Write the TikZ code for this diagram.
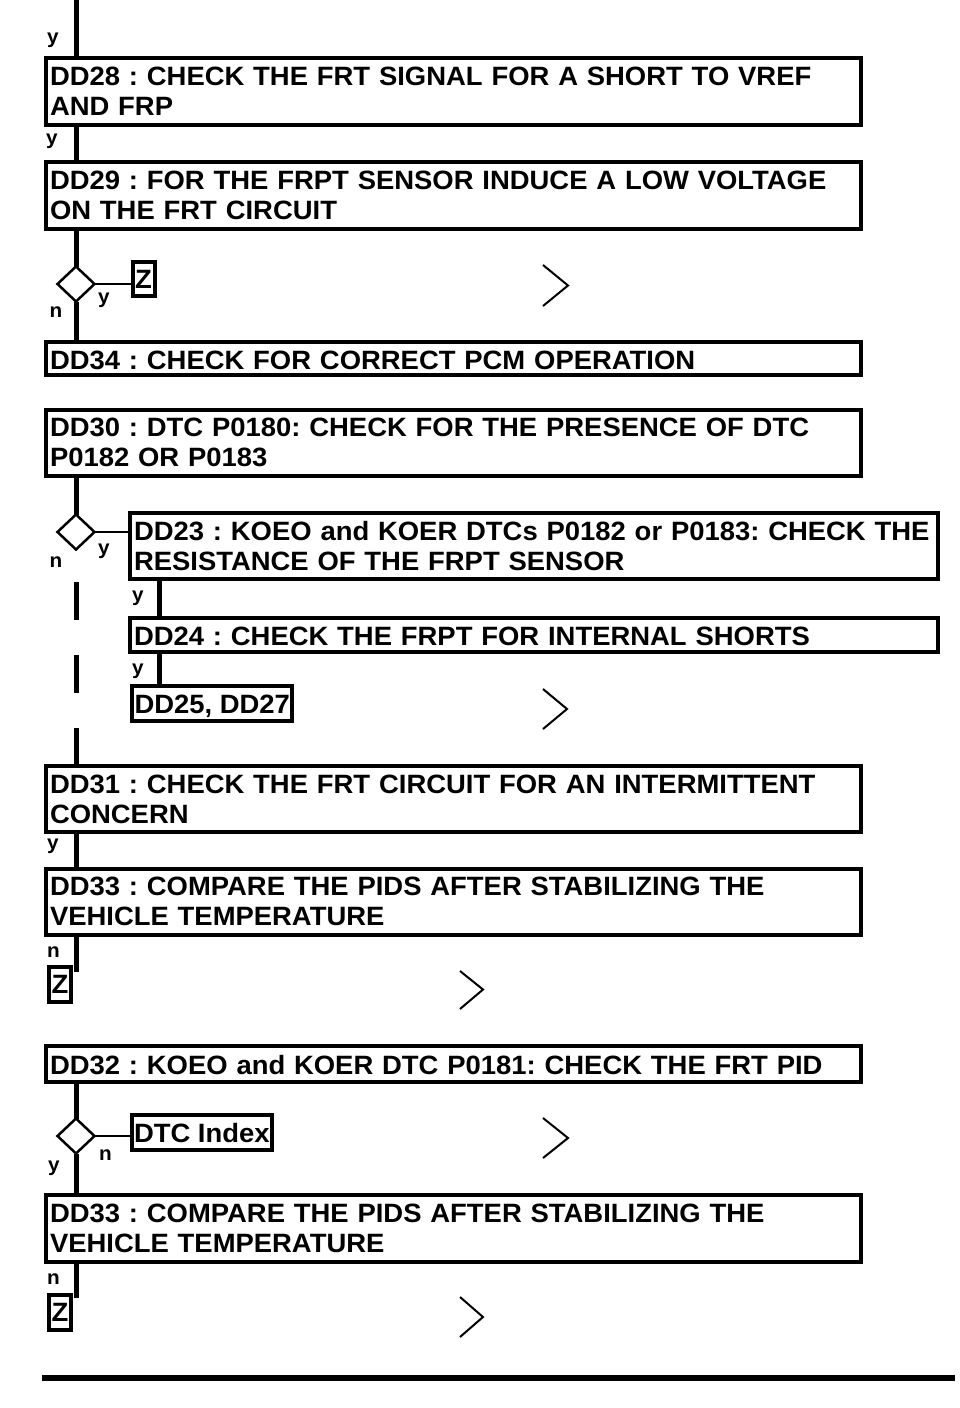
\documentclass[tikz,border=0pt]{standalone}
\usepackage{fontspec}
\setmainfont{Liberation Sans}[FakeStretch=1.035]
\usetikzlibrary{shapes.geometric}
\frenchspacing
\newcommand\bxfont{\fontsize{26.5pt}{30pt}\selectfont\bfseries\frenchspacing}
\newcommand\lbfont{\fontsize{20pt}{22pt}\selectfont\bfseries}
\begin{document}
\begin{tikzpicture}[x=1pt,y=-1pt,
  box/.style={draw, line width=4pt, rectangle, anchor=north west, inner xsep=4pt, inner ysep=0pt,
    outer sep=0pt, align=left, font=\bxfont},
  mainbox/.style={box, text width=807pt, minimum height=#1},
  widebox/.style={box, text width=800pt, minimum height=#1},
  smallbox/.style={draw, line width=4pt, rectangle, anchor=north west, inner xsep=2.5pt, inner ysep=0pt,
    outer sep=0pt, font=\bxfont, minimum height=#1, text height=19pt, text depth=0pt},
  zbox/.style={draw, line width=4pt, rectangle, inner sep=0pt, outer sep=0pt, font=\bxfont,
    minimum width=22pt, minimum height=34pt},
  dia/.style={draw, diamond, line width=2.5pt, minimum width=37pt, minimum height=35pt, inner sep=0pt, outer sep=0pt},
  trunk/.style={line width=5pt},
  link/.style={line width=2.5pt},
  chev/.style={line width=2pt, line join=miter},
  lab/.style={font=\lbfont, anchor=base west, inner sep=0pt}]
\fill[white] (0,0) rectangle (960,1408);
\useasboundingbox (0,0) rectangle (960,1408);

% boxes
\node[mainbox=67pt] (DD28) at (46,58) {DD28 : CHECK THE FRT SIGNAL FOR A SHORT TO VREF\\AND FRP};
\node[mainbox=67pt] (DD29) at (46,162) {DD29 : FOR THE FRPT SENSOR INDUCE A LOW VOLTAGE\\ON THE FRT CIRCUIT};
\node[zbox] (Z1) at (143.5,279) {Z};
\node[dia] (d1) at (76,284) {};
\node[mainbox=33pt, text height=21pt, text depth=0pt] (DD34) at (46,342) {DD34 : CHECK FOR CORRECT PCM OPERATION};
\node[mainbox=66pt] (DD30) at (46,409.5) {DD30 : DTC P0180: CHECK FOR THE PRESENCE OF DTC\\P0182 OR P0183};
\node[dia] (d2) at (76,532) {};
\node[widebox=66pt] (DD23) at (130,513) {DD23 : KOEO and KOER DTCs P0182 or P0183: CHECK THE\\RESISTANCE OF THE FRPT SENSOR};
\node[widebox=34pt, text height=20pt, text depth=0pt] (DD24) at (130,618) {DD24 : CHECK THE FRPT FOR INTERNAL SHORTS};
\node[smallbox=35pt] (DD25) at (132,686) {DD25, DD27};
\node[mainbox=66pt] (DD31) at (46,766) {DD31 : CHECK THE FRT CIRCUIT FOR AN INTERMITTENT\\CONCERN};
\node[mainbox=65.5pt] (DD33a) at (46,869) {DD33 : COMPARE THE PIDS AFTER STABILIZING THE\\VEHICLE TEMPERATURE};
\node[zbox, minimum height=35pt] (Z2) at (60,984.5) {Z};
\node[mainbox=36pt, text height=20pt, text depth=0pt] (DD32) at (46,1046) {DD32 : KOEO and KOER DTC P0181: CHECK THE FRT PID};
\node[dia] (d3) at (76,1136) {};
\node[smallbox=35pt, inner xsep=2pt] (DTC) at (132,1115) {DTC Index};
\node[mainbox=67pt] (DD33b) at (46,1195) {DD33 : COMPARE THE PIDS AFTER STABILIZING THE\\VEHICLE TEMPERATURE};
\node[zbox, minimum height=35pt] (Z3) at (60,1312.5) {Z};

% free ends
\coordinate (top) at (76,0);
\coordinate (e2) at (76,972);
\coordinate (e3) at (76,1298);

% connectors
\draw[trunk] (top) -- ([xshift=30pt]DD28.north west);
\draw[trunk] ([xshift=30pt]DD28.south west) -- ([xshift=30pt]DD29.north west);
\draw[trunk] ([xshift=30pt]DD29.south west) -- (d1.north);
\draw[link] (d1.east) -- (d1.east -| Z1.west);
\draw[trunk] (d1.south) -- ([xshift=30pt]DD34.north west);
\draw[trunk] ([xshift=30pt]DD30.south west) -- (d2.north);
\draw[link] (d2.east) -- (d2.east -| DD23.west);
\draw[trunk, dash pattern=on 38pt off 35pt] ([xshift=30pt]DD31.north west) -- (d2.south);
\draw[trunk] ([xshift=29.5pt]DD23.south west) -- ([xshift=29.5pt]DD24.north west);
\draw[trunk] ([xshift=29.5pt]DD24.south west) -- ([xshift=27.5pt]DD25.north west);
\draw[trunk] ([xshift=30pt]DD31.south west) -- ([xshift=30pt]DD33a.north west);
\draw[trunk] ([xshift=30pt]DD33a.south west) -- (e2);
\draw[trunk] ([xshift=30pt]DD32.south west) -- (d3.north);
\draw[link] (d3.east) -- (d3.east -| DTC.west);
\draw[trunk] (d3.south) -- ([xshift=30pt]DD33b.north west);
\draw[trunk] ([xshift=30pt]DD33b.south west) -- (e3);

% labels
\node[lab] (l1) at (47,43) {y};
\node[lab] (l2) at (46,144) {y};
\node[lab] (l3) at (98,303) {y};
\node[lab] (l4) at (49.5,317) {n};
\node[lab] (l5) at (98,554) {y};
\node[lab] (l6) at (49.5,567) {n};
\node[lab] (l7) at (132,601) {y};
\node[lab] (l8) at (132,674) {y};
\node[lab] (l9) at (47,849) {y};
\node[lab] (l10) at (47,957) {n};
\node[lab] (l11) at (99,1160) {n};
\node[lab] (l12) at (48,1171) {y};
\node[lab] (l13) at (47,1284) {n};

% continuation marks
\draw[chev] (543,265) -- (568,285.5) -- (543,306);
\draw[chev] (543,689) -- (567,709) -- (543,729);
\draw[chev] (460,971) -- (483,989.5) -- (460,1009);
\draw[chev] (543,1118) -- (568,1138) -- (543,1158);
\draw[chev] (460,1297) -- (483,1317) -- (460,1337);

% bottom rule
\draw[line width=6pt] (42,1378) -- (955,1378);
\end{tikzpicture}
\end{document}
